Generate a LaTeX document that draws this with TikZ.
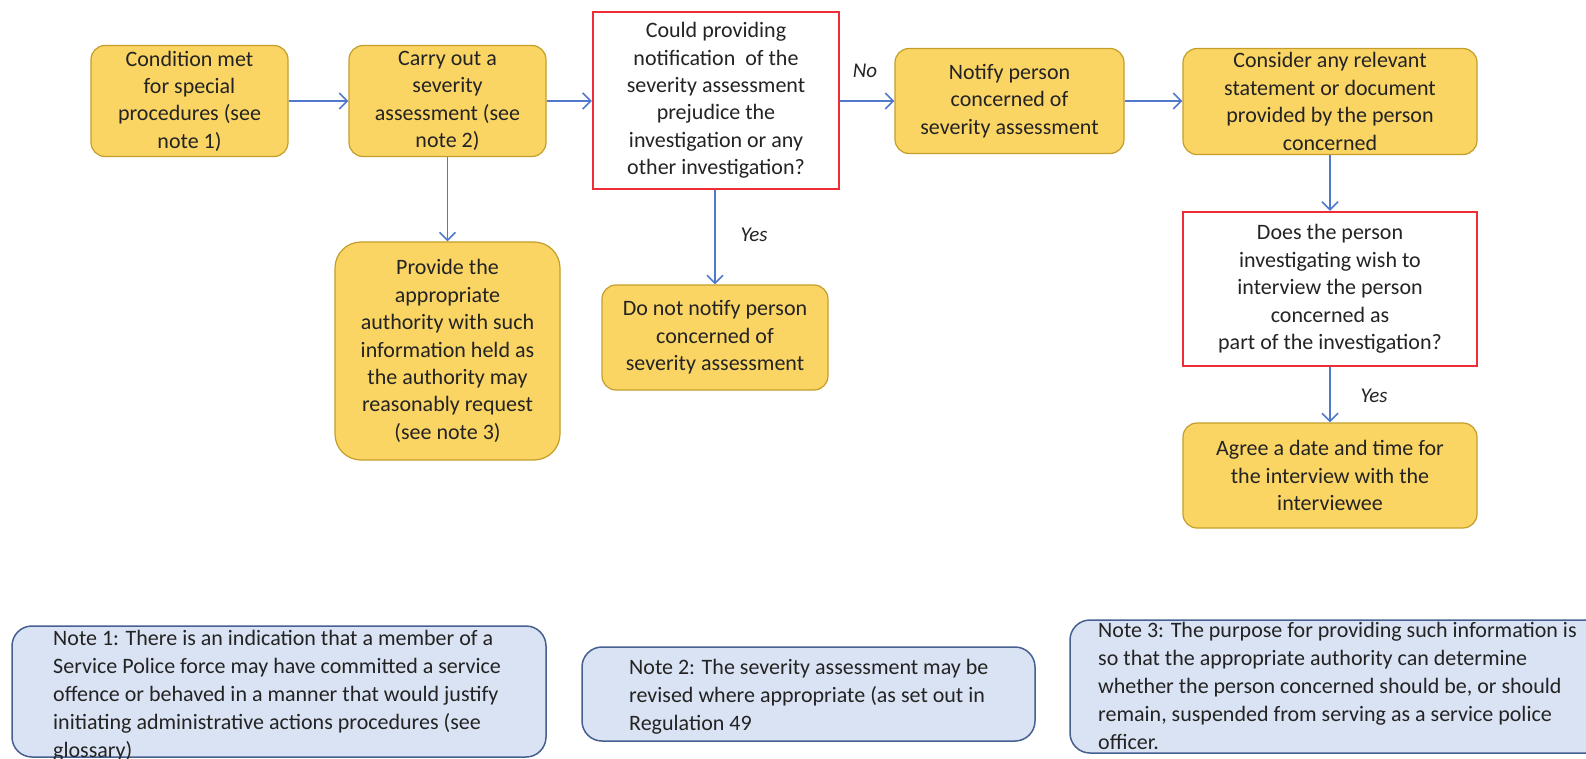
\documentclass[tikz,border=0pt]{standalone}
\usepackage{fontspec}
\setmainfont{Carlito}
\usetikzlibrary{arrows.meta}

\definecolor{boxfill}{RGB}{250,213,100}
\definecolor{boxline}{RGB}{196,158,40}
\definecolor{askline}{RGB}{238,45,55}
\definecolor{flow}{RGB}{80,120,205}
\definecolor{notefill}{RGB}{218,227,243}
\definecolor{noteline}{RGB}{70,95,145}
\definecolor{ink}{RGB}{35,35,35}

\tikzset{
  txt/.style={font=\fontsize{22}{27.4}\selectfont, text=ink},
  stepbox/.style={txt, draw=boxline, fill=boxfill, line width=1.2pt,
    rounded corners=14pt, align=center, inner sep=0pt},
  askbox/.style={txt, draw=askline, fill=white, line width=2.4pt,
    align=center, inner sep=0pt},
  notebox/.style={draw=noteline, fill=notefill, line width=1.5pt,
    rounded corners=20pt, inner sep=0pt},
  notetext/.style={font=\fontsize{22}{28}\selectfont, text=ink,
    anchor=north west, align=left, inner sep=0pt},
  flowarrow/.style={draw=flow, line width=1.6pt,
    -{Straight Barb[length=8pt,width=16pt,line width=1.6pt]}},
  answer/.style={txt, font=\fontsize{21}{27}\selectfont\itshape}
}

\begin{document}
\begin{tikzpicture}[x=1pt,y=-1pt]
\useasboundingbox (0,0) rectangle (1586,759);

% top row
\node[stepbox, minimum width=197pt, minimum height=111pt] (cond) at (189.5,101)
  {Condition met\\for special\\procedures (see\\note 1)};
\node[stepbox, minimum width=197pt, minimum height=111pt] (sev) at (447.5,101)
  {Carry out a\\severity\\assessment (see\\note 2)};
\node[askbox, minimum width=246pt, minimum height=177pt] (ask1) at (716,100.5)
  {Could providing\\notification \ of the\\severity assessment\\prejudice the\\investigation or any\\other investigation?};
\node[stepbox, minimum width=229pt, minimum height=105pt] (notify) at (1009.5,101)
  {Notify person\\concerned of\\severity assessment};
\node[stepbox, minimum width=294pt, minimum height=106pt] (consider) at (1330,101.5)
  {Consider any relevant\\statement or document\\provided by the person\\concerned};

% lower boxes
\node[stepbox, rounded corners=26pt, minimum width=225pt, minimum height=218pt] (provide) at (447.5,351)
  {Provide the\\appropriate\\authority with such\\information held as\\the authority may\\reasonably request\\(see note 3)};
\node[stepbox, minimum width=226pt, minimum height=105pt] (nonotify) at (715,337.5)
  {Do not notify person\\concerned of\\severity assessment};
\node[askbox, minimum width=294pt, minimum height=154pt] (ask2) at (1330,289)
  {Does the person\\investigating wish to\\interview the person\\concerned as\\part of the investigation?};
\node[stepbox, minimum width=294pt, minimum height=105pt] (agree) at (1330,475.5)
  {Agree a date and time for\\the interview with the\\interviewee};

% connectors
\draw[flowarrow] (cond.east) -- (sev.west);
\draw[flowarrow] (sev.east) -- (ask1.west |- sev.east);
\draw[flowarrow] (ask1.east |- notify.west) -- (notify.west);
\draw[flowarrow] (notify.east) -- (consider.west |- notify.east);
\draw[flowarrow] (sev.south) -- (provide.north);
\draw[flowarrow] (ask1.south -| nonotify.north) -- (nonotify.north);
\draw[flowarrow] (consider.south) -- (ask2.north);
\draw[flowarrow] (ask2.south) -- (agree.north);

\node[answer] (no)   at (865,71)  {No};
\node[answer] (yes1) at (754,235) {Yes};
\node[answer] (yes2) at (1374,396) {Yes};

% notes
\node[notebox, minimum width=534pt, minimum height=131pt] (note1) at (279,691.5) {};
\node[notetext] (note1t) at (53,630)
  {Note 1: There is an indication that a member of a\\Service Police force may have committed a service\\offence or behaved in a manner that would justify\\initiating administrative actions procedures (see\\glossary)};
\node[notebox, minimum width=453pt, minimum height=94pt] (note2) at (808.5,694) {};
\node[notetext] (note2t) at (629,659)
  {Note 2: The severity assessment may be\\revised where appropriate (as set out in\\Regulation 49};
\node[notebox, minimum width=545pt, minimum height=133pt] (note3) at (1342.5,686.5) {};
\node[notetext] (note3t) at (1098,622.5)
  {Note 3: The purpose for providing such information is\\so that the appropriate authority can determine\\whether the person concerned should be, or should\\remain, suspended from serving as a service police\\officer.};
\end{tikzpicture}
\end{document}
